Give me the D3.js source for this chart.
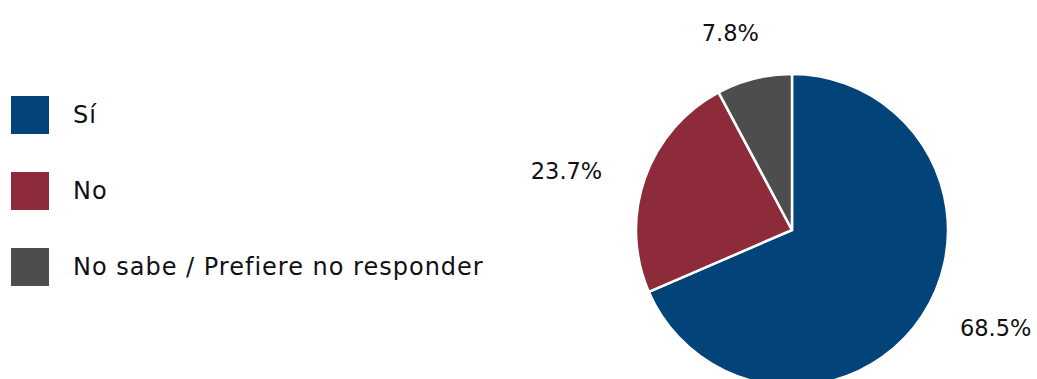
<!DOCTYPE html>
<html><head><meta charset="utf-8">
<script src="https://cdn.jsdelivr.net/npm/d3@7"></script>
<style>html,body{margin:0;padding:0;background:#fff;}svg{display:block;}</style>
</head><body>
<svg id="chart" width="1037" height="379"></svg>
<script>
const categories = ["Sí", "No", "No sabe / Prefiere no responder"];
const values = [68.5, 23.7, 7.8];
const labels = ["68.5%", "23.7%", "7.8%"];
const colors = ["#02437A", "#8D2B3A", "#4D4D4D"];

const svg = d3.select("#chart");
const cx = 792, cy = 230, r = 156;
const font = "'DejaVu Sans', sans-serif";

const pie = d3.pie().sort(null).value(d => d)(values);
const arc = d3.arc().innerRadius(0).outerRadius(r);

const g = svg.append("g").attr("transform", `translate(${cx},${cy})`);
g.selectAll("path").data(pie).join("path")
  .attr("d", arc)
  .attr("fill", (d, i) => colors[i])
  .attr("stroke", "#fff").attr("stroke-width", 2.5).attr("stroke-linejoin", "round");

g.selectAll("text.lab").data(pie).join("text")
  .attr("class", "lab")
  .each(function(d, i) {
    const a = (d.startAngle + d.endAngle) / 2;
    const s = Math.sin(a), c = Math.cos(a);
    const top = Math.abs(s) < 0.35;
    const rx = top ? 254 : 201, ry = top ? 203 : 178;
    const x = rx * s, y = -ry * c;
    const anchor = top ? "middle" : (s > 0 ? "start" : "end");
    d3.select(this).attr("x", x).attr("y", y).attr("dy", "0.35em")
      .attr("text-anchor", anchor).text(labels[i]);
  })
  .attr("font-family", font).attr("font-size", 22.5).attr("fill", "#111");

const legend = svg.append("g").attr("transform", "translate(11,96)");
const ly = d3.scalePoint().domain(categories).range([0, 152]);
const items = legend.selectAll("g").data(categories).join("g")
  .attr("transform", d => `translate(0,${ly(d)})`);
items.append("rect").attr("width", 38).attr("height", 38)
  .attr("fill", (d, i) => colors[i]);
items.append("text").attr("x", 62).attr("y", 19).attr("dy", "0.35em")
  .attr("font-family", font).attr("font-size", 24).attr("letter-spacing", 1)
  .attr("fill", "#111")
  .text(d => d);
</script>
</body></html>
